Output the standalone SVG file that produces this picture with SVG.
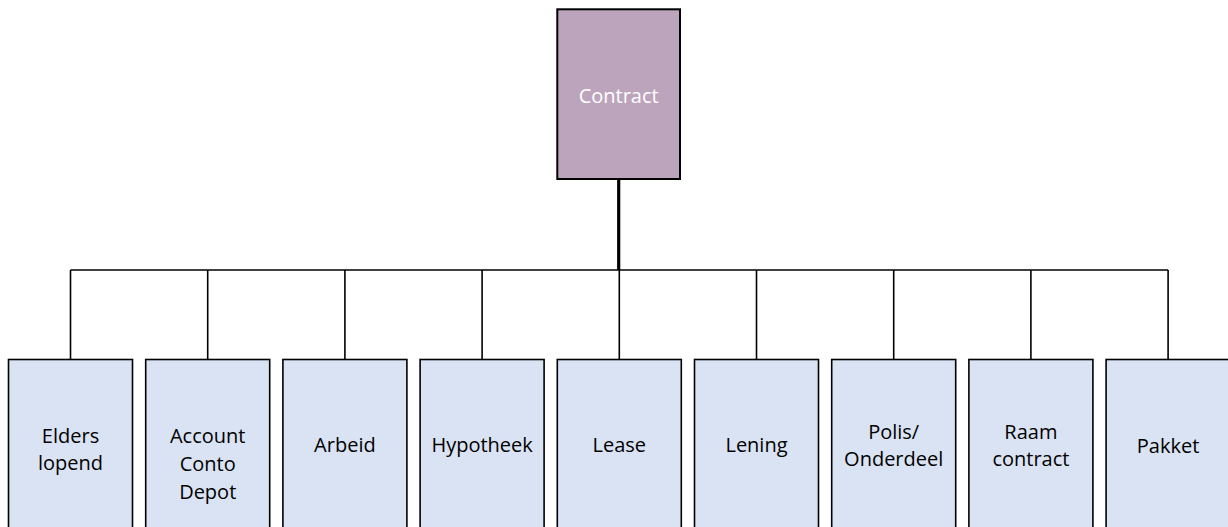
<svg xmlns="http://www.w3.org/2000/svg" width="1228" height="527" viewBox="0 0 1228 527">
<style>
.box{fill:#dae3f3;stroke:#000;stroke-width:1.6}
.top{fill:#bca5bc;stroke:#000;stroke-width:2}
.t{font-family:"Open Sans","Liberation Sans",Arial,sans-serif;font-size:20px;fill:#000;text-anchor:middle}
.tw{font-family:"Open Sans","Liberation Sans",Arial,sans-serif;font-size:20px;fill:#fff;text-anchor:middle}
.c{stroke:#000;stroke-width:1.6;fill:none}
</style>
<rect width="1228" height="527" fill="#fff"/>
<g id="connectors">
<line class="c" x1="618.7" y1="179" x2="618.7" y2="270" style="stroke-width:3.2"/>
<line class="c" x1="70.5" y1="270" x2="1168.1" y2="270"/>
<line class="c" x1="70.5" y1="270" x2="70.5" y2="359.5"/>
<line class="c" x1="207.7" y1="270" x2="207.7" y2="359.5"/>
<line class="c" x1="344.9" y1="270" x2="344.9" y2="359.5"/>
<line class="c" x1="482.1" y1="270" x2="482.1" y2="359.5"/>
<line class="c" x1="619.3" y1="270" x2="619.3" y2="359.5"/>
<line class="c" x1="756.5" y1="270" x2="756.5" y2="359.5"/>
<line class="c" x1="893.7" y1="270" x2="893.7" y2="359.5"/>
<line class="c" x1="1030.9" y1="270" x2="1030.9" y2="359.5"/>
<line class="c" x1="1168.1" y1="270" x2="1168.1" y2="359.5"/>
</g>
<g id="contract">
<rect class="top" x="557.3" y="9.3" width="122.7" height="169.7"/>
<text class="tw" x="618.7" y="102.5">Contract</text>
</g>
<g id="elders">
<rect class="box" x="8.5" y="359.5" width="124" height="180"/>
<text class="t" x="70.5" y="442.5">Elders</text>
<text class="t" x="70.5" y="470">lopend</text>
</g>
<g id="account">
<rect class="box" x="145.7" y="359.5" width="124" height="180"/>
<text class="t" x="207.7" y="442.5">Account</text>
<text class="t" x="207.7" y="470.5">Conto</text>
<text class="t" x="207.7" y="498.5">Depot</text>
</g>
<g id="arbeid">
<rect class="box" x="282.9" y="359.5" width="124" height="180"/>
<text class="t" x="344.9" y="452">Arbeid</text>
</g>
<g id="hypotheek">
<rect class="box" x="420.1" y="359.5" width="124" height="180"/>
<text class="t" x="482.1" y="452">Hypotheek</text>
</g>
<g id="lease">
<rect class="box" x="557.3" y="359.5" width="124" height="180"/>
<text class="t" x="619.3" y="452">Lease</text>
</g>
<g id="lening">
<rect class="box" x="694.5" y="359.5" width="124" height="180"/>
<text class="t" x="756.5" y="452">Lening</text>
</g>
<g id="polis">
<rect class="box" x="831.7" y="359.5" width="124" height="180"/>
<text class="t" x="893.7" y="438.5">Polis/</text>
<text class="t" x="893.7" y="466">Onderdeel</text>
</g>
<g id="raam">
<rect class="box" x="968.9" y="359.5" width="124" height="180"/>
<text class="t" x="1030.9" y="438.5">Raam</text>
<text class="t" x="1030.9" y="465.5">contract</text>
</g>
<g id="pakket">
<rect class="box" x="1106.1" y="359.5" width="124" height="180"/>
<text class="t" x="1168.1" y="452.5">Pakket</text>
</g>
</svg>
